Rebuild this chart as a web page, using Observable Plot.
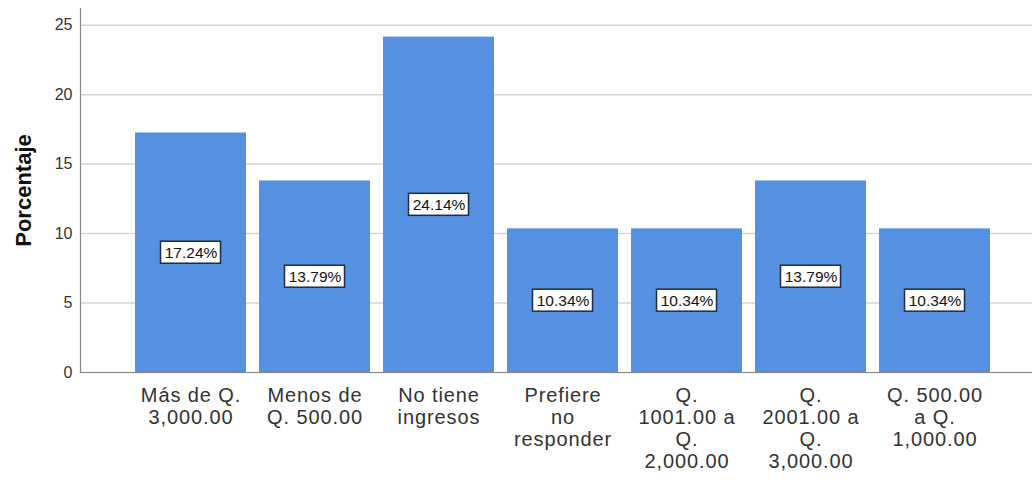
<!DOCTYPE html>
<html>
<head>
<meta charset="utf-8">
<script src="https://cdn.jsdelivr.net/npm/d3@7"></script>
<script src="https://cdn.jsdelivr.net/npm/@observablehq/plot@0.6"></script>
<style>
  html, body { margin: 0; padding: 0; background: #fff; }
  #chart svg { display: block; }
  #chart g[aria-label="x-axis tick label"] { letter-spacing: 0.9px; }
</style>
</head>
<body>
<div id="chart"></div>
<script>
const categories = [
  "Más de Q. 3,000.00",
  "Menos de Q. 500.00",
  "No tiene ingresos",
  "Prefiere no responder",
  "Q. 1001.00 a Q. 2,000.00",
  "Q. 2001.00 a Q. 3,000.00",
  "Q. 500.00 a Q. 1,000.00"
];
const tickLabels = [
  "Más de Q.\n3,000.00",
  "Menos de\nQ. 500.00",
  "No tiene\ningresos",
  "Prefiere\nno\nresponder",
  "Q.\n1001.00 a\nQ.\n2,000.00",
  "Q.\n2001.00 a\nQ.\n3,000.00",
  "Q. 500.00\na Q.\n1,000.00"
];
const percentages = [17.24, 13.79, 24.14, 10.34, 10.34, 13.79, 10.34];
const yTicks = [0, 5, 10, 15, 20, 25];

const data = categories.map((c, i) => ({cat: c, value: percentages[i]}));
const labelOf = new Map(categories.map((c, i) => [c, tickLabels[i]]));

const font = "'Liberation Sans', Arial, sans-serif";

const chart = Plot.plot({
  width: 1032,
  height: 480,
  marginTop: 8,
  marginBottom: 108,
  marginLeft: 80,
  marginRight: 0,
  style: {fontFamily: font, background: "#fff"},
  x: {
    domain: categories,
    paddingInner: 0.105,
    paddingOuter: 0.0525,
    insetLeft: 48.5,
    insetRight: 35.5
  },
  y: {domain: [0, 26.2], ticks: yTicks},
  marks: [
    Plot.gridY(yTicks, {stroke: "#d4d4d4", strokeOpacity: 1, strokeWidth: 1.5}),
    Plot.barY(data, {x: "cat", y: "value", fill: "#5591e0"}),
    Plot.ruleY([0], {stroke: "#888", strokeWidth: 1.2}),
    Plot.frame({anchor: "left", stroke: "#888", strokeWidth: 1.2}),
    Plot.barY(data, {
      x: "cat",
      y1: d => d.value / 2,
      y2: d => d.value / 2,
      insetTop: -11,
      insetBottom: -11,
      insetLeft: 25.5,
      insetRight: 25.5,
      fill: "#fff",
      stroke: "#1e2b45",
      strokeWidth: 1.5
    }),
    Plot.text(data, {
      x: "cat",
      y: d => d.value / 2,
      text: d => d.value.toFixed(2) + "%",
      fontSize: 15.5,
      fill: "#111"
    }),
    Plot.axisY(yTicks, {
      tickSize: 0,
      tickPadding: 8,
      fontSize: 16,
      fill: "#333",
      label: null
    }),
    Plot.axisX({
      tickSize: 0,
      tickPadding: 14,
      fontSize: 20,
      lineHeight: 1.1,
      fill: "#333",
      label: null,
      tickFormat: d => labelOf.get(d)
    }),
    Plot.text(["Porcentaje"], {
      frameAnchor: "left",
      textAnchor: "middle",
      rotate: -90,
      dx: -57,
      fontWeight: "bold",
      fontSize: 22,
      fill: "#111"
    })
  ]
});

document.getElementById("chart").appendChild(chart);
</script>
</body>
</html>
